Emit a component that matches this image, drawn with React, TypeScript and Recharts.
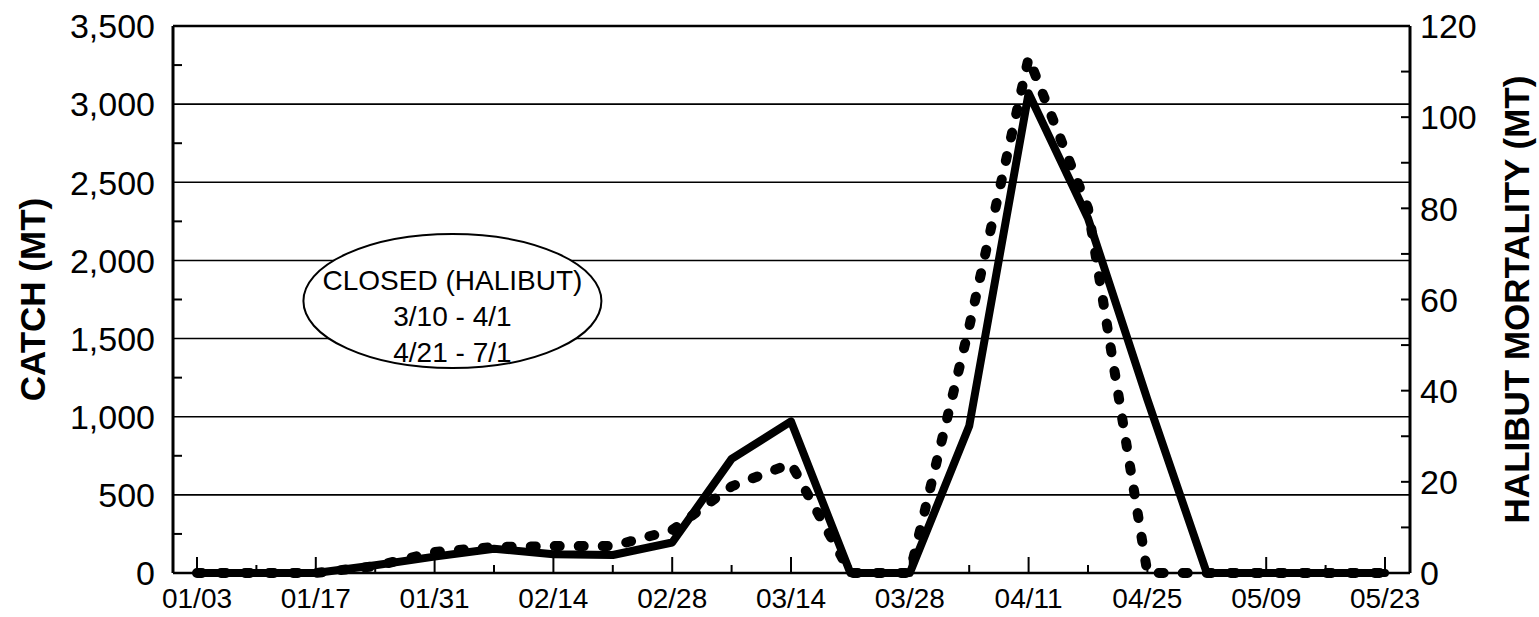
import { LineChart, Line, XAxis, YAxis, ReferenceLine, ReferenceDot } from 'recharts';

const WEEKS = [
  '01/03', '01/10', '01/17', '01/24', '01/31', '02/07', '02/14', '02/21', '02/28', '03/07',
  '03/14', '03/21', '03/28', '04/04', '04/11', '04/18', '04/25', '05/02', '05/09', '05/16', '05/23',
];
const CATCH_MT = [0, 0, 0, 50, 105, 155, 120, 115, 195, 730, 970, 0, 0, 940, 3070, 2270, 1110, 0, 0, 0, 0];
const HALIBUT_MT = [0, 0, 0, 1.5, 4.6, 5.7, 5.9, 5.9, 9.4, 19, 24, 0, 0, 54, 113, 80, 0, 0, 0, 0, 0];

const CATCH_TICKS = [0, 250, 500, 750, 1000, 1250, 1500, 1750, 2000, 2250, 2500, 2750, 3000, 3250, 3500];
const CATCH_GRID = [500, 1000, 1500, 2000, 2500, 3000, 3500];
const HALIBUT_TICKS = [0, 10, 20, 30, 40, 50, 60, 70, 80, 90, 100, 110, 120];
const NOTE_LINES = ['CLOSED (HALIBUT)', '3/10 - 4/1', '4/21 - 7/1'];

const FONT = '"Liberation Sans", Arial, sans-serif';

const data = WEEKS.map((week, i) => ({
  i,
  week,
  catchMt: CATCH_MT[i],
  halibutMt: HALIBUT_MT[i],
}));

function WeekTick({ x, y, payload }: any) {
  const i = payload.value as number;
  const major = i % 2 === 0;
  return (
    <g>
      <line x1={x} x2={x} y1={y} y2={y - (major ? 16 : 8)} stroke="#000" strokeWidth={2} />
      {major && (
        <text x={x} y={y + 35} textAnchor="middle" fontSize={28} fontFamily={FONT} fill="#000">
          {WEEKS[i]}
        </text>
      )}
    </g>
  );
}

function CatchTick({ x, y, payload }: any) {
  const v = payload.value as number;
  const major = v % 500 === 0;
  return (
    <g>
      {!major && <line x1={x} x2={x + 9} y1={y} y2={y} stroke="#000" strokeWidth={2} />}
      {major && (
        <text x={x - 18} y={y} dy="0.36em" textAnchor="end" fontSize={34} fontFamily={FONT} fill="#000">
          {v.toLocaleString('en-US')}
        </text>
      )}
    </g>
  );
}

function HalibutTick({ x, y, payload }: any) {
  const v = payload.value as number;
  const major = v % 20 === 0;
  return (
    <g>
      {v > 0 && v < 120 && <line x1={x} x2={x - 9} y1={y} y2={y} stroke="#000" strokeWidth={2} />}
      {major && (
        <text x={x + 10} y={y} dy="0.36em" textAnchor="start" fontSize={34} fontFamily={FONT} fill="#000">
          {v}
        </text>
      )}
    </g>
  );
}

function AxisTitle({ viewBox, value, dx }: any) {
  const cx = viewBox.x + dx;
  const cy = viewBox.y + viewBox.height / 2;
  return (
    <text
      x={cx}
      y={cy}
      transform={`rotate(-90, ${cx}, ${cy})`}
      textAnchor="middle"
      dominantBaseline="central"
      fontSize={35}
      fontWeight="bold"
      fontFamily={FONT}
      fill="#000"
    >
      {value}
    </text>
  );
}

function ClosedNote({ cx, cy }: any) {
  return (
    <g>
      <ellipse cx={cx} cy={cy} rx={149} ry={67} fill="#fff" stroke="#000" strokeWidth={2} />
      {NOTE_LINES.map((t, k) => (
        <text
          key={t}
          x={cx}
          y={cy - 11 + k * 36}
          textAnchor="middle"
          fontSize={28}
          fontFamily={FONT}
          fill="#000"
        >
          {t}
        </text>
      ))}
    </g>
  );
}

export default function App() {
  return (
    <div style={{ position: 'absolute', left: 0, top: 0, background: '#fff' }}>
      <LineChart width={1539} height={617} data={data} margin={{ top: 26, right: 0, bottom: 0, left: 0 }}>
        <XAxis
          dataKey="i"
          type="number"
          domain={[0, 20]}
          ticks={WEEKS.map((_, i) => i)}
          interval={0}
          padding={{ left: 24, right: 25 }}
          height={44}
          tickLine={false}
          tickSize={0}
          tickMargin={0}
          axisLine={{ stroke: '#000', strokeWidth: 2.5 }}
          tick={<WeekTick />}
        />
        <YAxis
          yAxisId="left"
          domain={[0, 3500]}
          ticks={CATCH_TICKS}
          interval={0}
          width={173}
          tickLine={false}
          tickSize={0}
          tickMargin={0}
          axisLine={{ stroke: '#000', strokeWidth: 3 }}
          tick={<CatchTick />}
          label={(p: any) => <AxisTitle {...p} value="CATCH (MT)" dx={32} />}
        />
        <YAxis
          yAxisId="right"
          orientation="right"
          domain={[0, 120]}
          ticks={HALIBUT_TICKS}
          interval={0}
          width={129}
          tickLine={false}
          tickSize={0}
          tickMargin={0}
          axisLine={{ stroke: '#000', strokeWidth: 3 }}
          tick={<HalibutTick />}
          label={(p: any) => <AxisTitle {...p} value="HALIBUT MORTALITY (MT)" dx={106} />}
        />
        {CATCH_GRID.map((v) => (
          <ReferenceLine key={v} yAxisId="left" y={v} stroke="#000" strokeWidth={v === 3500 ? 2.5 : 1.6} />
        ))}
        <ReferenceDot yAxisId="left" x={4.3} y={1740} shape={<ClosedNote />} />
        <Line
          yAxisId="left"
          dataKey="catchMt"
          stroke="#000"
          strokeWidth={8}
          strokeLinejoin="round"
          strokeLinecap="round"
          dot={false}
          isAnimationActive={false}
        />
        <Line
          yAxisId="right"
          dataKey="halibutMt"
          stroke="#000"
          strokeWidth={10}
          strokeDasharray="5 19"
          strokeLinecap="round"
          dot={false}
          isAnimationActive={false}
        />
      </LineChart>
    </div>
  );
}
